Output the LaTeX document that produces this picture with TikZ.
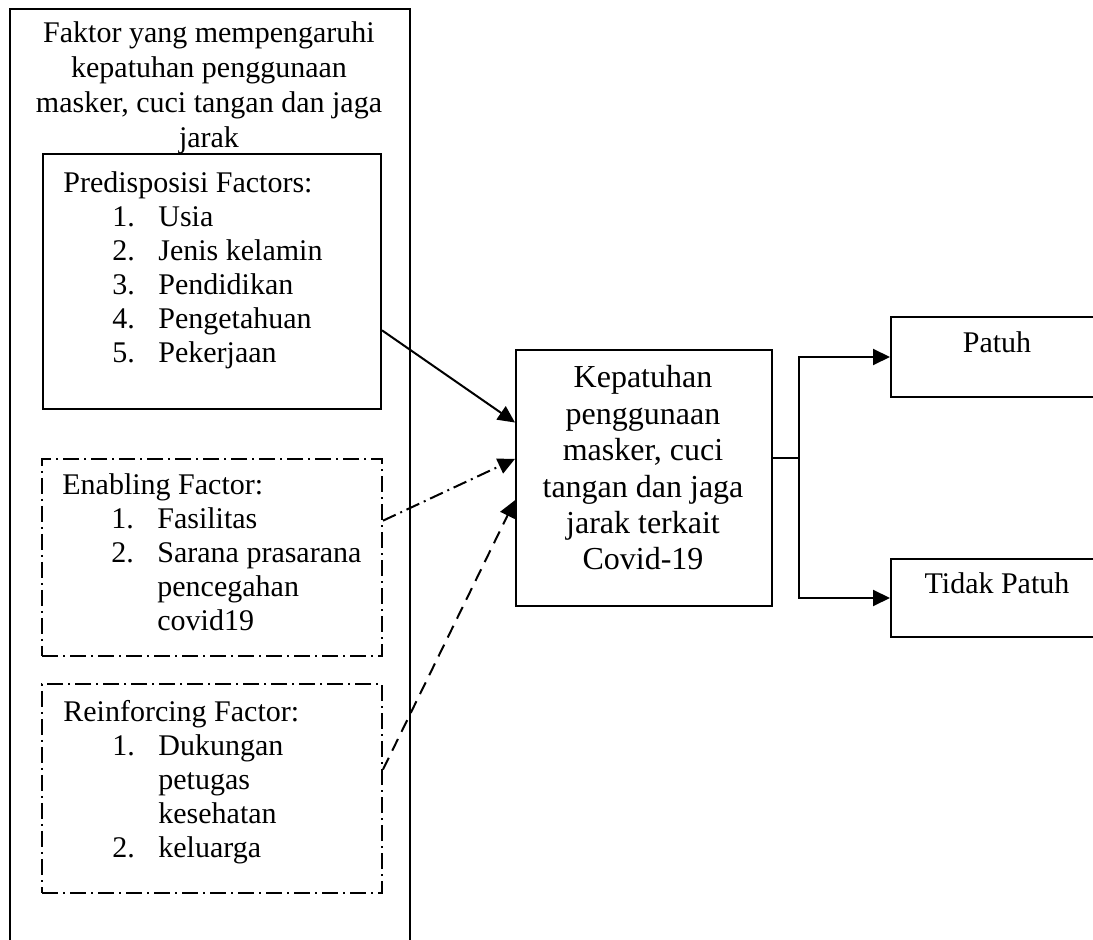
\documentclass[tikz,border=0pt]{standalone}
\usepackage{fontspec}
\setmainfont{Liberation Serif}
\usetikzlibrary{shapes,arrows.meta,positioning,calc}

\tikzset{
  kotak/.style={draw, line width=1pt, inner sep=0pt, anchor=north west},
  kotakputus/.style={kotak, dash pattern=on 8pt off 2.5pt on 1pt off 2.5pt},
  teks/.style={inner sep=0pt, font=\fontsize{15}{17}\selectfont},
  panah/.style={line width=1pt, -{Triangle[length=8.5pt,width=8pt]}},
}
\newcommand{\butir}[2]{\hspace*{24.5pt}\makebox[23pt][l]{#1}#2}
\newcommand{\lanjut}[1]{\hspace*{47.5pt}#1}

\begin{document}
\begin{tikzpicture}[x=0.5pt, y=-0.5pt]
    \useasboundingbox (0,0) rectangle (1093,940);

    % kotak luar
    \node[kotak, minimum width=200pt, minimum height=476pt] (luar) at (9,8) {};
    \node[teks, anchor=base, font=\fontsize{15}{17.4}\selectfont] (judul) at (209,43)
        {\begin{tabular}[t]{@{}c@{}}Faktor yang mempengaruhi\\ kepatuhan penggunaan\\ masker, cuci tangan dan jaga\\ jarak\end{tabular}};

    % predisposisi
    \node[kotak, minimum width=169pt, minimum height=127.5pt] (pred) at (42,153) {};
    \node[teks, anchor=base west] (predtxt) at (63,193)
        {\begin{tabular}[t]{@{}l@{}}Predisposisi Factors:\\ \butir{1.}{Usia}\\ \butir{2.}{Jenis kelamin}\\
        \butir{3.}{Pendidikan}\\ \butir{4.}{Pengetahuan}\\ \butir{5.}{Pekerjaan}\end{tabular}};

    % enabling
    \node[kotakputus, minimum width=170pt, minimum height=98.5pt] (enab) at (41,458) {};
    \node[teks, anchor=base west] (enabtxt) at (62,495)
        {\begin{tabular}[t]{@{}l@{}}Enabling Factor:\\ \butir{1.}{Fasilitas}\\ \butir{2.}{Sarana prasarana}\\
        \lanjut{pencegahan}\\ \lanjut{covid19}\end{tabular}};

    % reinforcing
    \node[kotakputus, minimum width=170pt, minimum height=104.5pt] (reinf) at (41,683) {};
    \node[teks, anchor=base west] (reinftxt) at (63,722)
        {\begin{tabular}[t]{@{}l@{}}Reinforcing Factor:\\ \butir{1.}{Dukungan}\\ \lanjut{petugas}\\
        \lanjut{kesehatan}\\ \butir{2.}{keluarga}\end{tabular}};

    % kepatuhan
    \node[kotak, minimum width=128pt, minimum height=128pt] (kep) at (515,349) {};
    \node[teks, anchor=base, font=\fontsize{16}{18.2}\selectfont] (keptxt) at (643,388)
        {\begin{tabular}[t]{@{}c@{}}Kepatuhan\\ penggunaan\\ masker, cuci\\ tangan dan jaga\\ jarak terkait\\ Covid-19\end{tabular}};

    % hasil
    \node[kotak, minimum width=107pt, minimum height=40pt] (patuh) at (890,316) {};
    \node[teks, anchor=base] (patuhtxt) at (997,353) {Patuh};
    \node[kotak, minimum width=107pt, minimum height=39pt] (tidak) at (890,558) {};
    \node[teks, anchor=base] (tidaktxt) at (997,594) {Tidak Patuh};

    % panah ke kepatuhan
    \draw[panah] ($(pred.north east)!0.69!(pred.south east)$) -- ($(kep.north west)!0.285!(kep.south west)$);
    \draw[panah, dash pattern=on 7pt off 2.5pt on 1pt off 2.5pt] ($(enab.north east)!0.315!(enab.south east)$) -- ($(kep.north west)!0.426!(kep.south west)$);
    \draw[panah, dash pattern=on 6.5pt off 4pt] ($(reinf.north east)!0.41!(reinf.south east)$) -- ($(kep.north west)!0.586!(kep.south west)$);

    % cabang ke hasil
    \coordinate (cabang) at (799,458);
    \draw[line width=1pt] (kep.east |- cabang) -- (cabang);
    \draw[panah] (cabang) |- (patuh.west);
    \draw[panah] (cabang) |- (tidak.west);
\end{tikzpicture}
\end{document}
